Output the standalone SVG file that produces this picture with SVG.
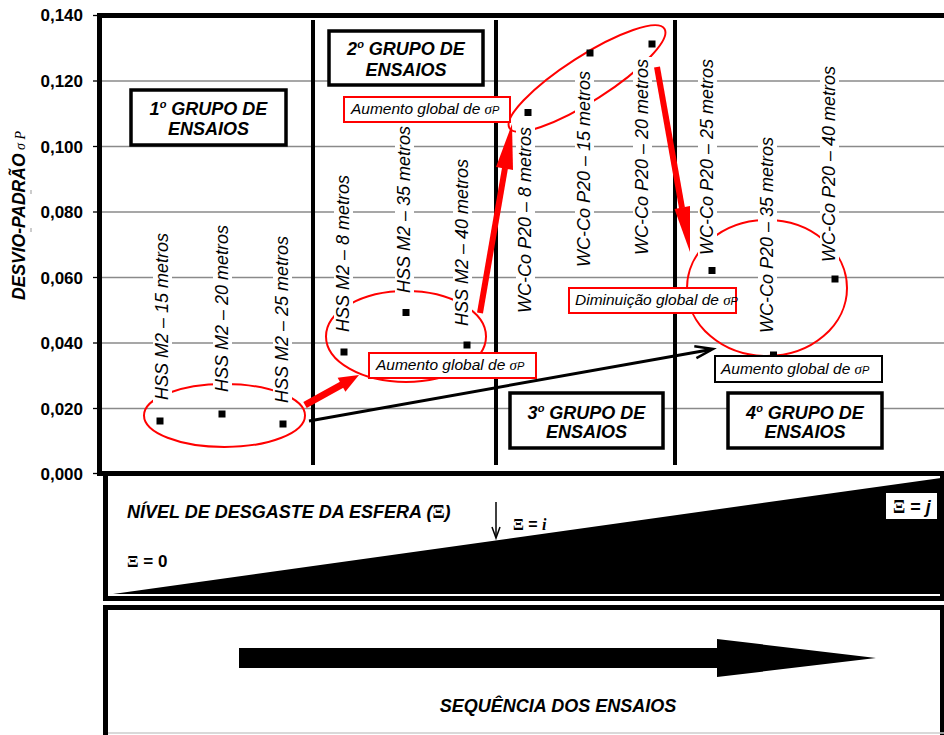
<svg xmlns="http://www.w3.org/2000/svg" width="944" height="735" viewBox="0 0 944 735">
<style>
.grid{stroke:#8a8a8a;stroke-width:1.3}
.sep{stroke:#000;stroke-width:4}
.frame{stroke:#000;stroke-width:5;fill:none}
.lbl{font-family:"Liberation Sans",Arial,sans-serif;font-style:italic;font-size:18px;fill:#000}
.bg{fill:#fff}
.pt{fill:#000}
.ell{fill:none;stroke:#f00;stroke-width:2}
.title{font-family:"Liberation Sans",Arial,sans-serif;font-weight:bold;font-style:italic;font-size:18px;text-anchor:middle}
.tbox{fill:#fff;stroke:#000;stroke-width:3.5}
.rbox{fill:#fff;stroke:#f00;stroke-width:2}
.kbox{fill:#fff;stroke:#000;stroke-width:2}
.note{font-family:"Liberation Sans",Arial,sans-serif;font-style:italic;font-size:15.5px}
.sig{font-family:"Liberation Serif",serif;font-style:italic;font-size:15px}
.tick{font-family:"Liberation Sans",Arial,sans-serif;font-weight:bold;font-size:17px;text-anchor:end}
.tk{stroke:#000;stroke-width:1.3}
.xi{font-family:"Liberation Serif",serif;font-weight:bold}
.bold{font-family:"Liberation Sans",Arial,sans-serif;font-weight:bold}
.red{fill:#f00}
.rs{stroke:#f00;fill:none}
</style>
<rect x="0" y="0" width="944" height="735" fill="#fff"/>

<g id="axes">
  <g class="grid">
    <line x1="102" y1="81" x2="944" y2="81"/>
    <line x1="102" y1="146.5" x2="944" y2="146.5"/>
    <line x1="102" y1="212" x2="944" y2="212"/>
    <line x1="102" y1="277.5" x2="944" y2="277.5"/>
    <line x1="102" y1="343" x2="944" y2="343"/>
    <line x1="102" y1="408.5" x2="944" y2="408.5"/>
  </g>
  <g class="tk">
    <line x1="93" y1="15.5" x2="99" y2="15.5"/>
    <line x1="93" y1="81" x2="99" y2="81"/>
    <line x1="93" y1="146.5" x2="99" y2="146.5"/>
    <line x1="93" y1="212" x2="99" y2="212"/>
    <line x1="93" y1="277.5" x2="99" y2="277.5"/>
    <line x1="93" y1="343" x2="99" y2="343"/>
    <line x1="93" y1="408.5" x2="99" y2="408.5"/>
    <line x1="93" y1="473.5" x2="99" y2="473.5"/>
  </g>
  <line x1="97" y1="15.5" x2="944" y2="15.5" class="frame"/>
  <line x1="99.5" y1="13" x2="99.5" y2="476" class="frame"/>
  <line x1="97" y1="473.5" x2="944" y2="473.5" class="frame"/>
  <g class="tick">
    <text x="83" y="21">0,140</text>
    <text x="83" y="87">0,120</text>
    <text x="83" y="152.5">0,100</text>
    <text x="83" y="218">0,080</text>
    <text x="83" y="283.5">0,060</text>
    <text x="83" y="349">0,040</text>
    <text x="83" y="414.5">0,020</text>
    <text x="83" y="479.5">0,000</text>
  </g>
  <text transform="translate(25,300) rotate(-90)" class="bold" font-style="italic" font-size="17.5">DESVIO-PADRÃO<tspan font-family="Liberation Serif,serif" font-weight="normal" font-size="14"> σ P</tspan></text>
  <line x1="31" y1="190" x2="31" y2="194" stroke="#999" stroke-width="1"/>
  <line x1="31" y1="228" x2="31" y2="232" stroke="#999" stroke-width="1"/>
</g>

<g id="separators" class="sep">
  <line x1="313" y1="20" x2="313" y2="465"/>
  <line x1="496" y1="20" x2="496" y2="465"/>
  <line x1="675" y1="20" x2="675" y2="465"/>
</g>

<g id="ellipses">
  <ellipse class="ell" cx="224.5" cy="415.5" rx="80.5" ry="31.5"/>
  <ellipse class="ell" cx="406" cy="336.5" rx="80" ry="45.5"/>
  <ellipse class="ell" cx="587" cy="78.5" rx="92" ry="22.5" transform="rotate(-32.7 587 78.5)"/>
  <ellipse class="ell" cx="767" cy="288" rx="80" ry="68"/>
</g>

<g id="group1">
  <g transform="translate(168,400) rotate(-90)"><rect class="bg" x="-2" y="-15" width="171" height="19"/><text class="lbl">HSS M2 – 15 metros</text></g>
  <g transform="translate(228,392) rotate(-90)"><rect class="bg" x="-2" y="-15" width="171" height="19"/><text class="lbl">HSS M2 – 20 metros</text></g>
  <g transform="translate(288,403) rotate(-90)"><rect class="bg" x="-2" y="-15" width="171" height="19"/><text class="lbl">HSS M2 – 25 metros</text></g>
  <rect class="pt" x="156.5" y="417.5" width="7" height="7"/>
  <rect class="pt" x="218.5" y="410.5" width="7" height="7"/>
  <rect class="pt" x="279.5" y="420.5" width="7" height="7"/>
  <rect class="tbox" x="131" y="90" width="155" height="55"/>
  <text class="title" x="208.5" y="115">1<tspan font-size="11" dy="-7">o</tspan><tspan dy="7"> GRUPO DE</tspan></text>
  <text class="title" x="208.5" y="135">ENSAIOS</text>
</g>

<g id="group2">
  <g transform="translate(349,332) rotate(-90)"><rect class="bg" x="-2" y="-15" width="161" height="19"/><text class="lbl">HSS M2 – 8 metros</text></g>
  <g transform="translate(410,293) rotate(-90)"><rect class="bg" x="-2" y="-15" width="171" height="19"/><text class="lbl">HSS M2 – 35 metros</text></g>
  <g transform="translate(468,326) rotate(-90)"><rect class="bg" x="-2" y="-15" width="171" height="19"/><text class="lbl">HSS M2 – 40 metros</text></g>
  <rect class="pt" x="340.5" y="348.5" width="7" height="7"/>
  <rect class="pt" x="402.5" y="309" width="7" height="7"/>
  <rect class="pt" x="463.5" y="341.5" width="7" height="7"/>
  <rect class="tbox" x="329" y="31" width="154" height="54"/>
  <text class="title" x="406" y="55">2<tspan font-size="11" dy="-7">o</tspan><tspan dy="7"> GRUPO DE</tspan></text>
  <text class="title" x="406" y="76">ENSAIOS</text>
</g>

<g id="group3">
  <g transform="translate(531,313) rotate(-90)"><rect class="bg" x="-2" y="-15" width="190" height="19"/><text class="lbl">WC-Co P20 – 8 metros</text></g>
  <g transform="translate(590,267) rotate(-90)"><rect class="bg" x="-2" y="-15" width="200" height="19"/><text class="lbl">WC-Co P20 – 15 metros</text></g>
  <g transform="translate(648,255) rotate(-90)"><rect class="bg" x="-2" y="-15" width="200" height="19"/><text class="lbl">WC-Co P20 – 20 metros</text></g>
  <rect class="pt" x="524.5" y="109" width="7" height="7"/>
  <rect class="pt" x="586.5" y="49.5" width="7" height="7"/>
  <rect class="pt" x="648.5" y="40.5" width="7" height="7"/>
  <rect class="tbox" x="510" y="393" width="153" height="55"/>
  <text class="title" x="586.5" y="419">3<tspan font-size="11" dy="-7">o</tspan><tspan dy="7"> GRUPO DE</tspan></text>
  <text class="title" x="586.5" y="438">ENSAIOS</text>
</g>

<g id="group4">
  <g transform="translate(713,255) rotate(-90)"><rect class="bg" x="-2" y="-15" width="200" height="19"/><text class="lbl">WC-Co P20 – 25 metros</text></g>
  <g transform="translate(773,333) rotate(-90)"><rect class="bg" x="-2" y="-15" width="200" height="19"/><text class="lbl">WC-Co P20 – 35 metros</text></g>
  <g transform="translate(835,262) rotate(-90)"><rect class="bg" x="-2" y="-15" width="200" height="19"/><text class="lbl">WC-Co P20 – 40 metros</text></g>
  <rect class="pt" x="708.5" y="267" width="7" height="7"/>
  <rect class="pt" x="770" y="351.5" width="7" height="7"/>
  <rect class="pt" x="831.5" y="275.5" width="7" height="7"/>
  <rect class="tbox" x="728" y="393" width="154" height="55"/>
  <text class="title" x="805" y="419">4<tspan font-size="11" dy="-7">o</tspan><tspan dy="7"> GRUPO DE</tspan></text>
  <text class="title" x="805" y="438">ENSAIOS</text>
</g>

<g id="connectors">
  <line x1="305" y1="405" x2="343" y2="384" class="rs" stroke-width="7"/>
  <polygon class="red" points="359,375 345.4,391.7 337.6,377.7"/>
  <line x1="480" y1="313" x2="505" y2="168" class="rs" stroke-width="6"/>
  <polygon class="red" points="512,124 513,170 496,167"/>
  <line x1="657" y1="67" x2="682" y2="208" class="rs" stroke-width="6"/>
  <polygon class="red" points="690,252 690,206 674.5,209"/>
  <line x1="309" y1="421" x2="711" y2="349.4" stroke="#000" stroke-width="3"/>
  <path d="M696.4,358.1 L713,349 L694.3,346.3" fill="none" stroke="#000" stroke-width="2.5"/>
</g>

<g id="notes">
  <g id="note1">
    <rect class="rbox" x="344" y="97" width="166" height="25"/>
    <text class="note" x="351" y="114">Aumento global de <tspan class="sig">σ</tspan><tspan font-size="11">P</tspan></text>
  </g>
  <g id="note2">
    <rect class="rbox" x="369" y="353" width="167" height="25"/>
    <text class="note" x="376" y="370">Aumento global de <tspan class="sig">σ</tspan><tspan font-size="11">P</tspan></text>
  </g>
  <g id="note3">
    <rect class="rbox" x="569" y="288" width="167" height="25"/>
    <text class="note" x="575" y="305">Diminuição global de <tspan class="sig">σ</tspan><tspan font-size="11">P</tspan></text>
  </g>
  <g id="note4">
    <rect class="kbox" x="715" y="356" width="167" height="26"/>
    <text class="note" x="721" y="374">Aumento global de <tspan class="sig">σ</tspan><tspan font-size="11">P</tspan></text>
  </g>
</g>

<g id="wear-level">
  <polygon points="113,594 941,478 941,594" fill="#000"/>
  <line x1="105.5" y1="474" x2="105.5" y2="601" class="frame"/>
  <line x1="942" y1="474" x2="942" y2="601" stroke="#000" stroke-width="4"/>
  <line x1="103" y1="598.5" x2="944" y2="598.5" class="frame"/>
  <text class="bold" x="127" y="518" font-size="18" font-style="italic">NÍVEL DE DESGASTE DA ESFERA (<tspan class="xi" font-style="normal" font-weight="normal">Ξ</tspan>)</text>
  <text class="bold" x="127" y="567" font-size="17"><tspan class="xi" font-weight="normal">Ξ</tspan> = 0</text>
  <line x1="496" y1="502" x2="496" y2="537" stroke="#000" stroke-width="1.5"/>
  <path d="M492,527 L496,538 L500,527" fill="none" stroke="#000" stroke-width="1.5"/>
  <text class="bold" x="513" y="530" font-size="16"><tspan class="xi" font-weight="normal">Ξ</tspan> = <tspan font-family="Liberation Serif,serif" font-style="italic">i</tspan></text>
  <rect x="886" y="493" width="51" height="26" fill="#fff"/>
  <text class="bold" x="893" y="513" font-size="18"><tspan class="xi" font-weight="normal">Ξ</tspan> = <tspan font-style="italic">j</tspan></text>
</g>

<g id="sequence">
  <line x1="103" y1="607.5" x2="944" y2="607.5" class="frame"/>
  <line x1="105.5" y1="605" x2="105.5" y2="735" class="frame"/>
  <line x1="942" y1="605" x2="942" y2="735" stroke="#000" stroke-width="4"/>
  <line x1="108" y1="733" x2="944" y2="733" stroke="#ccc" stroke-width="1.5"/>
  <polygon points="239,648 717,648 717,639 876,658 717,677 717,668 239,668" fill="#000"/>
  <text class="bold" x="558" y="712" font-size="18" font-style="italic" text-anchor="middle">SEQUÊNCIA DOS ENSAIOS</text>
</g>
</svg>
